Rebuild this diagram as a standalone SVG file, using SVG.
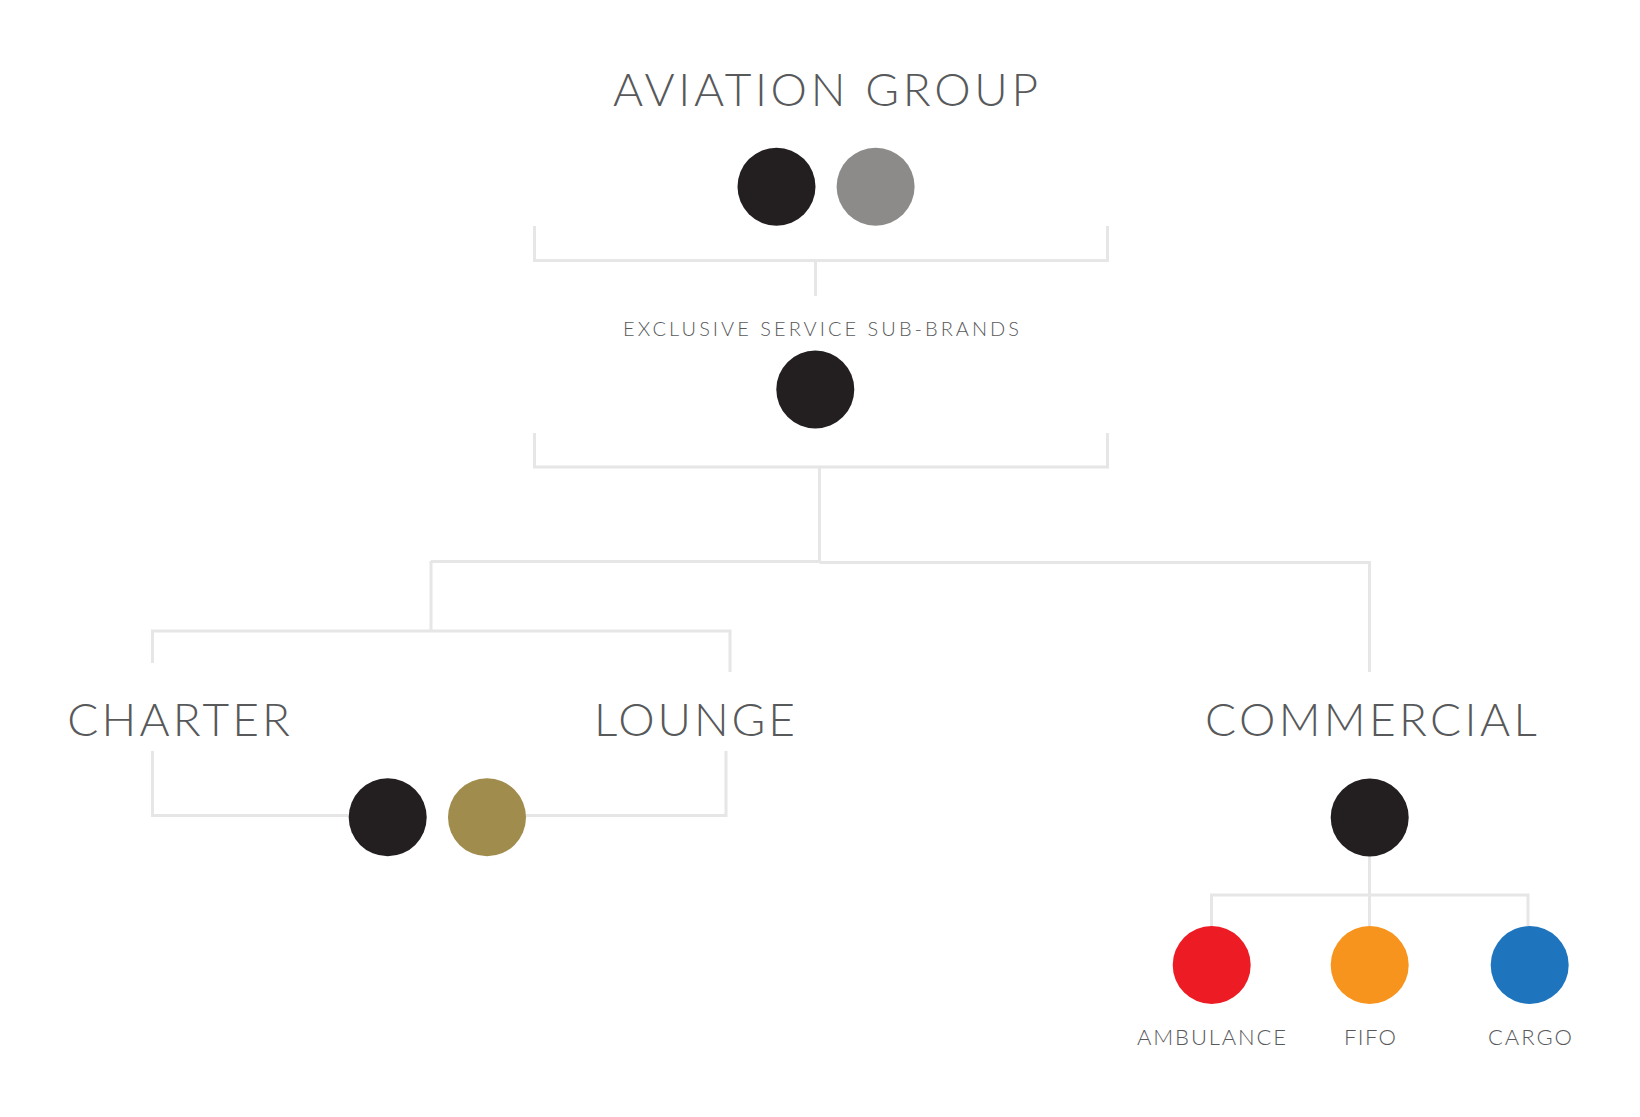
<svg xmlns="http://www.w3.org/2000/svg" width="1640" height="1117" viewBox="0 0 1640 1117">
<style>
.t{font-family:Lato,"Noto Sans","Liberation Sans",sans-serif;font-weight:300;fill:#58595b}
.big{font-size:46px}
.mid{font-size:20px}
.sm{font-size:22px}
.ln{fill:none;stroke:#e6e6e6;stroke-width:3}
.k{fill:#231f20}
</style>
<rect width="1640" height="1117" fill="#ffffff"/>
<g id="connectors">
<path class="ln" d="M534.5 226V260.5H1107.5V226M815.5 260.5V296"/>
<path class="ln" d="M534.5 433V467H1107.5V433M819.5 467V562"/>
<path class="ln" d="M431 561.5H819.5M819.5 562.5H1369.5V672"/>
<path class="ln" d="M431 561V631M152.5 663V631H730V672"/>
<path class="ln" d="M152.5 751V815.5H388M487 815.5H726V751"/>
<path class="ln" d="M1369.5 856V895M1211.5 926V895H1528V926M1369.5 895V926"/>
</g>
<g id="aviation-group">
<text class="t big" x="613" y="106" textLength="425" lengthAdjust="spacing">AVIATION GROUP</text>
<circle class="k" cx="776.5" cy="186.7" r="39"/>
<circle cx="875.6" cy="186.7" r="39" fill="#8c8b89"/>
</g>
<g id="exclusive-sub-brands">
<text class="t mid" x="623" y="336" textLength="396" lengthAdjust="spacing">EXCLUSIVE SERVICE SUB-BRANDS</text>
<circle class="k" cx="815.3" cy="389.5" r="39"/>
</g>
<g id="charter">
<text class="t big" x="67.3" y="736" textLength="222.7" lengthAdjust="spacing">CHARTER</text>
</g>
<g id="lounge">
<text class="t big" x="594" y="736" textLength="201" lengthAdjust="spacing">LOUNGE</text>
</g>
<g id="charter-lounge-brands">
<circle class="k" cx="387.7" cy="817.3" r="39"/>
<circle cx="487" cy="817.3" r="39" fill="#a08c4c"/>
</g>
<g id="commercial">
<text class="t big" x="1205" y="736" textLength="331.7" lengthAdjust="spacing">COMMERCIAL</text>
<circle class="k" cx="1369.7" cy="817.5" r="39"/>
</g>
<g id="ambulance">
<circle cx="1211.7" cy="965" r="39" fill="#ed1c24"/>
<text class="t sm" x="1137" y="1045" textLength="149" lengthAdjust="spacing">AMBULANCE</text>
</g>
<g id="fifo">
<circle cx="1369.7" cy="965" r="39" fill="#f7941d"/>
<text class="t sm" x="1344" y="1045" textLength="52" lengthAdjust="spacing">FIFO</text>
</g>
<g id="cargo">
<circle cx="1529.7" cy="965" r="39" fill="#1f75bd"/>
<text class="t sm" x="1488" y="1045" textLength="84" lengthAdjust="spacing">CARGO</text>
</g>
</svg>
